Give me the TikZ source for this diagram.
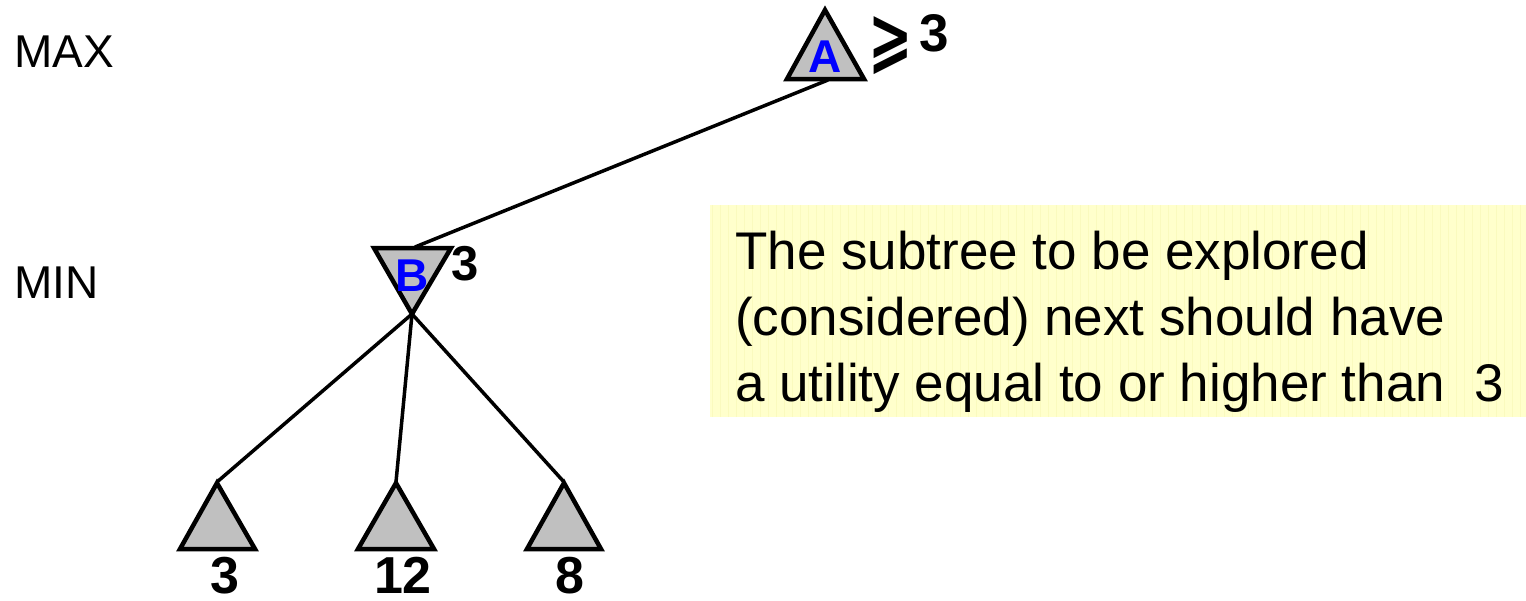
\documentclass[tikz,border=0pt]{standalone}
\usepackage{fontspec}
\usepackage{graphicx}
\setmainfont{Liberation Sans}
\newfontfamily\dejavu{DejaVu Sans}
\definecolor{trigray}{RGB}{192,192,192}
\definecolor{noteyellow}{RGB}{255,255,204}
\definecolor{notegrid}{RGB}{250,250,190}
\definecolor{letterblue}{RGB}{0,0,255}
\tikzset{
  tri/.style={draw=black, fill=trigray, line width=4.5pt, line join=miter},
  edge/.style={draw=black, line width=3.5pt},
  levellabel/.style={anchor=base west, inner sep=0pt, font=\fontsize{46}{50}\selectfont},
  nodeletter/.style={anchor=base, inner sep=0pt, text=letterblue, font=\fontsize{46}{50}\selectfont\bfseries},
  value/.style={anchor=base, inner sep=0pt, font=\fontsize{52}{60}\selectfont\bfseries},
  notetext/.style={anchor=base west, inner sep=0pt, font=\fontsize{53}{66}\selectfont},
}
\begin{document}
\begin{tikzpicture}[x=1pt, y=-1pt]
\useasboundingbox (0,0) rectangle (1526,600);
% note box
\fill[noteyellow] (710,205) rectangle (1526,417);
\draw[notegrid, line width=0.5pt, step=8] (710,205) grid (1526,417);
% level labels
\node[levellabel] (maxlbl) at (14,67) {MAX};
\node[levellabel] (minlbl) at (14,298) {MIN};
% triangles
\draw[tri] (825,10) -- (864,79) -- (787,79) -- cycle;
\draw[tri] (374,248) -- (451,248) -- (412,314) -- cycle;
\draw[tri] (217,483) -- (255,549) -- (180,549) -- cycle;
\draw[tri] (396,483) -- (434,549) -- (358,549) -- cycle;
\draw[tri] (564,483) -- (601,549) -- (527,549) -- cycle;
% connection points
\coordinate (Abase) at (828,80);
\coordinate (Btop) at (415,247);
\coordinate (Bapex) at (412,314);
\coordinate (L1) at (217,482);
\coordinate (L2) at (396,482);
\coordinate (L3) at (564,482);
\draw[edge] (Abase) -- (Btop);
\draw[edge] (Bapex) -- (L1);
\draw[edge] (Bapex) -- (L2);
\draw[edge] (Bapex) -- (L3);
% letters
\node[nodeletter] (A) at (825,72) {A};
\node[nodeletter] (B) at (412,291) {B};
% values
\node[anchor=base, inner sep=0pt, font=\fontsize{53}{60}\selectfont\dejavu\bfseries] (geq) at (891,63) {\scalebox{1.0}[1.4]{⩾}};
\node[value, font=\fontsize{53}{60}\selectfont\bfseries] (Aval) at (934,51) {3};
\node[value, font=\fontsize{49}{60}\selectfont\bfseries] (Bval) at (465,280) {3};
\node[value] (v1) at (225,593) {3};
\node[value] (v2) at (403,593) {12};
\node[value] (v3) at (570,593) {8};
% note text
\node[notetext] (t1) at (735,269) {The subtree to be explored};
\node[notetext] (t2) at (735,335) {(considered) next should have};
\node[notetext] (t3) at (735,401) {a utility equal to or higher than\ \ 3};
\end{tikzpicture}
\end{document}
